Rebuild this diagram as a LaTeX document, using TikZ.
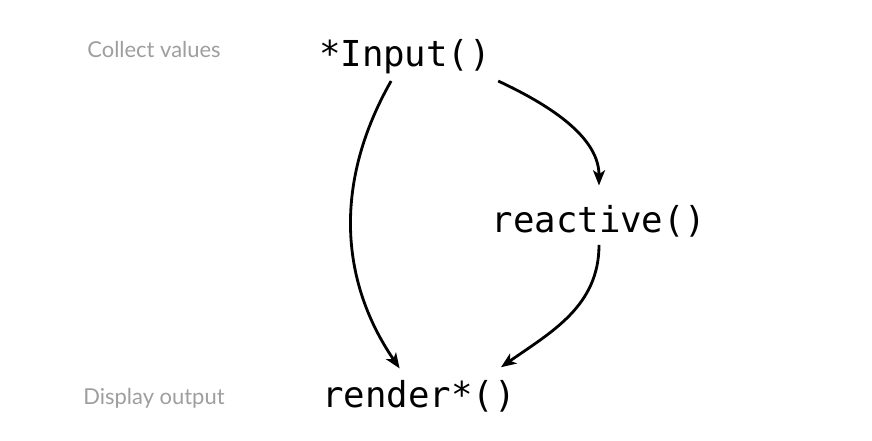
\documentclass[tikz,border=0pt]{standalone}
\usepackage{fontspec}
\setmonofont{DejaVu Sans Mono}
\newfontfamily\lblfont{Lato}
\usetikzlibrary{arrows.meta}
\definecolor{lbl-gray}{RGB}{158, 158, 158}
\begin{document}
\begin{tikzpicture}[
	func/.style = {anchor=base, inner sep=0.18cm, outer sep=0pt, font=\ttfamily\fontsize{25.4}{30}\selectfont},
	side/.style = {anchor=base, inner sep=0pt, text=lbl-gray, font=\lblfont\fontsize{15.6}{18}\selectfont},
	flow/.style = {line width=2pt, -{Stealth[length=0.38cm, width=0.3cm, inset=0.1cm]}}
	]
\useasboundingbox (0 ,0) rectangle (21.8 ,11);

\node [side] (collect) at (3.85 ,9.55) {Collect values};
\node [side] (display) at (3.85 ,0.9) {Display output};

\node [func] (input) at (10.125 ,9.34) {*Input()};
\node [func] (reactive) at (14.975 ,5.175) {reactive()};
\node [func] (render) at (10.475 ,0.8) {render*()};

\draw [flow, shorten >=0.16cm] (input) to [bend right=32] (render);
\draw [flow, shorten >=0.33cm] (input.south east) to [out=-25, in=90] (reactive.north);
\draw [flow] (reactive.south) to [out=-90, in=35] ([shift={(-0.55 ,0.16)}]render.north east);
\end{tikzpicture}
\end{document}
